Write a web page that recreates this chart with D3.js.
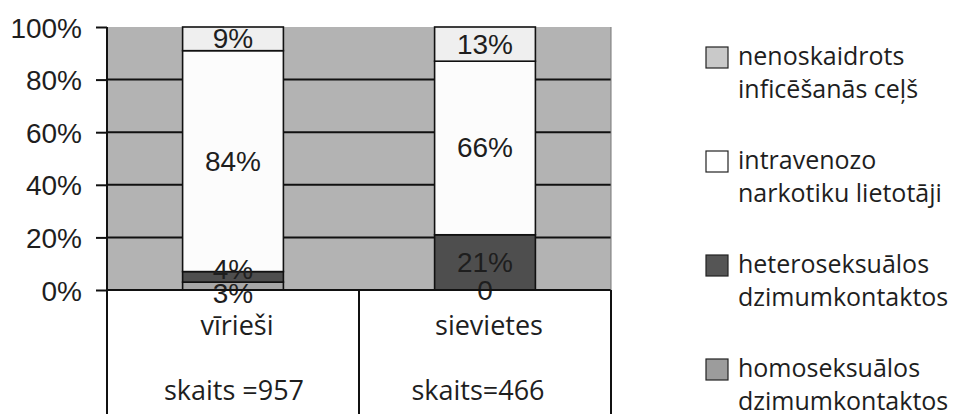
<!DOCTYPE html>
<html><head><meta charset="utf-8">
<script src="https://cdn.jsdelivr.net/npm/d3@7"></script>
<style>body{margin:0;background:#fff}svg{display:block}</style>
</head><body><svg id="c" width="962" height="414"></svg>
<script>
const categories = ["vīrieši", "sievietes"];
const counts = ["skaits =957", "skaits=466"];
const seriesNames = ["homoseksuālos dzimumkontaktos", "heteroseksuālos dzimumkontaktos", "intravenozo narkotiku lietotāji", "nenoskaidrots inficēšanās ceļš"];
const homo = [3, 0];
const hetero = [4, 21];
const intravenous = [84, 66];
const unknown = [9, 13];
const valueLabels = [["3%", "0"], ["4%", "21%"], ["84%", "66%"], ["9%", "13%"]];
const tickValues = [0, 20, 40, 60, 80, 100];
const legendOrder = [3, 2, 1, 0];
const legendLines = [["homoseksuālos", "dzimumkontaktos"], ["heteroseksuālos", "dzimumkontaktos"], ["intravenozo", "narkotiku lietotāji"], ["nenoskaidrots", "inficēšanās ceļš"]];

const barColors = ["#a7a7a7", "#4e4e4e", "#fcfcfc", "#efefef"];
const legendColors = ["#9c9c9c", "#555555", "#ffffff", "#c9c9c9"];

const svg = d3.select("#c");
const L = 107, R = 611, T = 27, B = 290;
const x = d3.scaleBand().domain(categories).range([L, R]).paddingInner(0.6).paddingOuter(0.3);
const y = d3.scaleLinear().domain([0, 100]).range([B, T]);

svg.append("rect").attr("x", L).attr("y", y(100)).attr("width", R - L).attr("height", B - y(100)).attr("fill", "#b3b3b3");
svg.append("g").selectAll("line").data(tickValues.filter(d => d > 0 && d < 100)).join("line")
  .attr("x1", L).attr("x2", R).attr("y1", d => y(d)).attr("y2", d => y(d))
  .attr("stroke", "#111").attr("stroke-width", 2);

const data = [homo, hetero, intravenous, unknown];
const rows = categories.map((c, i) => { const o = {cat: c}; data.forEach((s, k) => o["s" + k] = s[i]); return o; });
const stack = d3.stack().keys(data.map((_, k) => "s" + k))(rows);

stack.forEach((layer, k) => {
  svg.append("g").selectAll("rect").data(layer).join("rect")
    .attr("x", d => x(d.data.cat)).attr("width", x.bandwidth())
    .attr("y", d => y(d[1])).attr("height", d => y(d[0]) - y(d[1]))
    .attr("fill", barColors[k]).attr("stroke", "#111").attr("stroke-width", 1.6);
});

categories.forEach((c, i) => {
  const labs = stack.map((layer, k) => ({k, txt: valueLabels[k][i], yc: y((layer[i][0] + layer[i][1]) / 2)}));
  for (let a = 0; a < labs.length - 1; a++) {
    const lo = labs[a], hi = labs[a + 1];
    const gap = lo.yc - hi.yc;
    if (gap < 24 && (data[a][i] > 0) && data[a + 1][i] < 10) {
      const push = (24 - gap) / 2;
      lo.yc += push; hi.yc -= push;
    }
  }
  svg.append("g").selectAll("text").data(labs).join("text")
    .attr("x", x(c) + x.bandwidth() / 2).attr("y", d => d.yc)
    .attr("text-anchor", "middle").attr("dominant-baseline", "central")
    .attr("font-family", "Liberation Sans, Arial, sans-serif").attr("font-size", 28)
    .attr("fill", "#1e1e1e").text(d => d.txt);
});

const yAxis = d3.axisLeft(y).tickValues(tickValues).tickFormat(d => d + "%").tickSize(11).tickPadding(14);
const ga = svg.append("g").attr("transform", `translate(${L},0)`).call(yAxis);
ga.select(".domain").remove();
ga.selectAll(".tick line").attr("stroke", "#111").attr("stroke-width", 2);
ga.selectAll(".tick text").attr("font-family", "Liberation Sans, Arial, sans-serif").attr("font-size", 28).attr("fill", "#1e1e1e").attr("dy", "0.36em");

const tb = svg.append("g").attr("stroke", "#111").attr("stroke-width", 2);
tb.append("line").attr("x1", L).attr("x2", L).attr("y1", T).attr("y2", 414);
tb.append("line").attr("x1", L).attr("x2", R).attr("y1", B).attr("y2", B);
const mid = (x(categories[0]) + x.bandwidth() + x(categories[1])) / 2;
tb.append("line").attr("x1", mid).attr("x2", mid).attr("y1", B).attr("y2", 414);
tb.append("line").attr("x1", R).attr("x2", R).attr("y1", B).attr("y2", 414);
svg.append("line").attr("x1", R).attr("x2", R).attr("y1", T).attr("y2", B).attr("stroke", "#777").attr("stroke-width", 1);

const tf = "Open Sans, Noto Sans, sans-serif";
svg.append("g").selectAll("text").data(categories).join("text")
  .attr("x", d => x(d) + x.bandwidth() / 2 + 4).attr("y", 335).attr("text-anchor", "middle")
  .attr("font-family", tf).attr("font-size", 27).attr("fill", "#1e1e1e").text(d => d);
svg.append("g").selectAll("text").data(counts).join("text")
  .attr("x", (d, i) => x(categories[i]) + x.bandwidth() / 2 + (i === 0 ? 1 : -7)).attr("y", 400).attr("text-anchor", "middle")
  .attr("font-family", tf).attr("font-size", 27).attr("fill", "#1e1e1e").text(d => d);

const lg = svg.append("g");
legendOrder.forEach((k, j) => {
  const top = 47 + j * 104;
  lg.append("rect").attr("x", 706).attr("y", top).attr("width", 22).attr("height", 21)
    .attr("fill", legendColors[k]).attr("stroke", "#222").attr("stroke-width", 1.2);
  legendLines[k].forEach((ln, m) => {
    lg.append("text").attr("x", 738).attr("y", top + 18 + m * 33)
      .attr("font-family", tf).attr("font-size", 25).attr("fill", "#1e1e1e").text(ln);
  });
});
</script></body></html>
